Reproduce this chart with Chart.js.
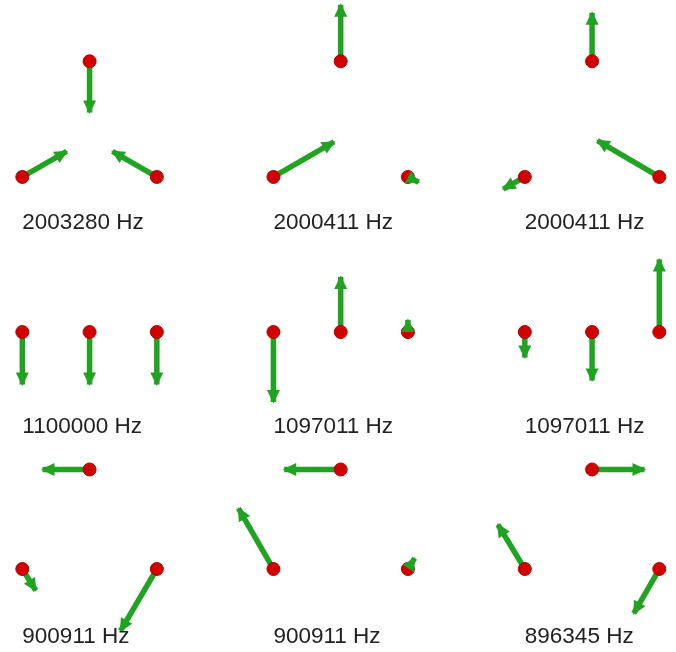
<!DOCTYPE html>
<html>
<head>
<meta charset="utf-8">
<title>Normal modes</title>
<script src="https://cdn.jsdelivr.net/npm/chart.js@4.4.1/dist/chart.umd.min.js"></script>
<style>
    body { margin: 0; background: #fff; }
    canvas { display: block; }
</style>
</head>
<body>
<canvas id="modesChart" width="676" height="652"></canvas>
<script>
// One label per mode, in reading order (3 x 3 grid)
const frequencies = ['2003280 Hz', '2000411 Hz', '2000411 Hz',
                     '1100000 Hz', '1097011 Hz', '1097011 Hz',
                     '900911 Hz', '900911 Hz', '896345 Hz'];

// Atoms A (left), B (right), C (apex); bond length = 1
const atomX = [0, 1, 0.5];
const topViewY = [0, 0, 0.86];   // looking down on the triangle
const sideViewY = [0, 0, 0];     // edge-on
const tiltViewY = [0, 0, 0.74];  // tilted view
const rowViews = [topViewY, sideViewY, tiltViewY];

// Displacement of A, B, C for each mode (same units as the bonds)
const dispX = [
    [0.33, -0.33, 0], [0.45, 0.08, 0], [-0.16, -0.46, 0],
    [0, 0, 0], [0, 0, 0], [0, 0, 0],
    [0.10, -0.27, -0.35], [-0.26, 0.05, -0.42], [-0.20, -0.19, 0.39]
];
const dispY = [
    [0.19, 0.19, -0.38], [0.26, -0.04, 0.42], [-0.09, 0.27, 0.36],
    [-0.39, -0.39, -0.39], [-0.52, 0.09, 0.41], [-0.19, 0.54, -0.36],
    [-0.16, -0.46, 0], [0.45, 0.08, 0], [0.33, -0.33, 0]
];

// Grid layout, in the same units
const PX_PER_UNIT = 134.5;
const colOrigin = [0.166, 2.033, 3.902];
const rowOrigin = [3.532, 2.379, 0.617];
const labelY = [3.19, 1.673, 0.112];

const GREEN = '#20a320';
const RED = '#d10000';

const datasets = [];
frequencies.forEach((_, m) => {
    const row = Math.floor(m / 3);
    const ox = colOrigin[m % 3];
    const oy = rowOrigin[row];
    const viewY = rowViews[row];
    const atoms = [];
    for (let a = 0; a < 3; a++) {
        const x = ox + atomX[a];
        const y = oy + viewY[a];
        atoms.push({ x: x, y: y });
        datasets.push({
            data: [{ x: x, y: y }, { x: x + dispX[m][a], y: y + dispY[m][a] }],
            showLine: true,
            borderColor: GREEN,
            borderWidth: 5.5,
            pointRadius: 0,
            order: 1,
            isArrow: true
        });
    }
    datasets.push({
        data: atoms,
        pointRadius: 6.5,
        backgroundColor: RED,
        borderColor: '#b00000',
        borderWidth: 1,
        order: 0
    });
});

// Arrow heads go on top of the atoms
const arrowHeads = {
    id: 'arrowHeads',
    afterDatasetsDraw(chart) {
        const ctx = chart.ctx;
        chart.data.datasets.forEach((ds, i) => {
            if (!ds.isArrow) return;
            const pts = chart.getDatasetMeta(i).data;
            const x0 = pts[0].x, y0 = pts[0].y, x1 = pts[1].x, y1 = pts[1].y;
            const len = Math.hypot(x1 - x0, y1 - y0);
            if (len < 1) return;
            const ux = (x1 - x0) / len, uy = (y1 - y0) / len;
            const headLen = Math.min(12, len);
            const half = 6.5;
            const bx = x1 - ux * headLen, by = y1 - uy * headLen;
            ctx.save();
            ctx.fillStyle = GREEN;
            ctx.beginPath();
            ctx.moveTo(x1 + ux * 1.5, y1 + uy * 1.5);
            ctx.lineTo(bx - uy * half, by + ux * half);
            ctx.lineTo(bx + uy * half, by - ux * half);
            ctx.closePath();
            ctx.fill();
            ctx.restore();
        });
    }
};

const modeLabels = {
    id: 'modeLabels',
    afterDraw(chart) {
        const ctx = chart.ctx;
        const xs = chart.scales.x, ys = chart.scales.y;
        ctx.save();
        ctx.font = '22.5px "Liberation Sans", Arial, sans-serif';
        ctx.fillStyle = '#222';
        ctx.textBaseline = 'middle';
        frequencies.forEach((label, m) => {
            const row = Math.floor(m / 3);
            ctx.fillText(label, xs.getPixelForValue(colOrigin[m % 3]), ys.getPixelForValue(labelY[row]));
        });
        ctx.restore();
    }
};

const canvas = document.getElementById('modesChart');
new Chart(canvas.getContext('2d'), {
    type: 'scatter',
    data: { datasets: datasets },
    options: {
        responsive: false,
        animation: false,
        layout: { padding: 0, autoPadding: false },
        scales: {
            x: { type: 'linear', min: 0, max: canvas.width / PX_PER_UNIT, display: false },
            y: { type: 'linear', min: 0, max: canvas.height / PX_PER_UNIT, display: false }
        },
        plugins: {
            legend: { display: false },
            tooltip: { enabled: false }
        }
    },
    plugins: [arrowHeads, modeLabels]
});
</script>
</body>
</html>
